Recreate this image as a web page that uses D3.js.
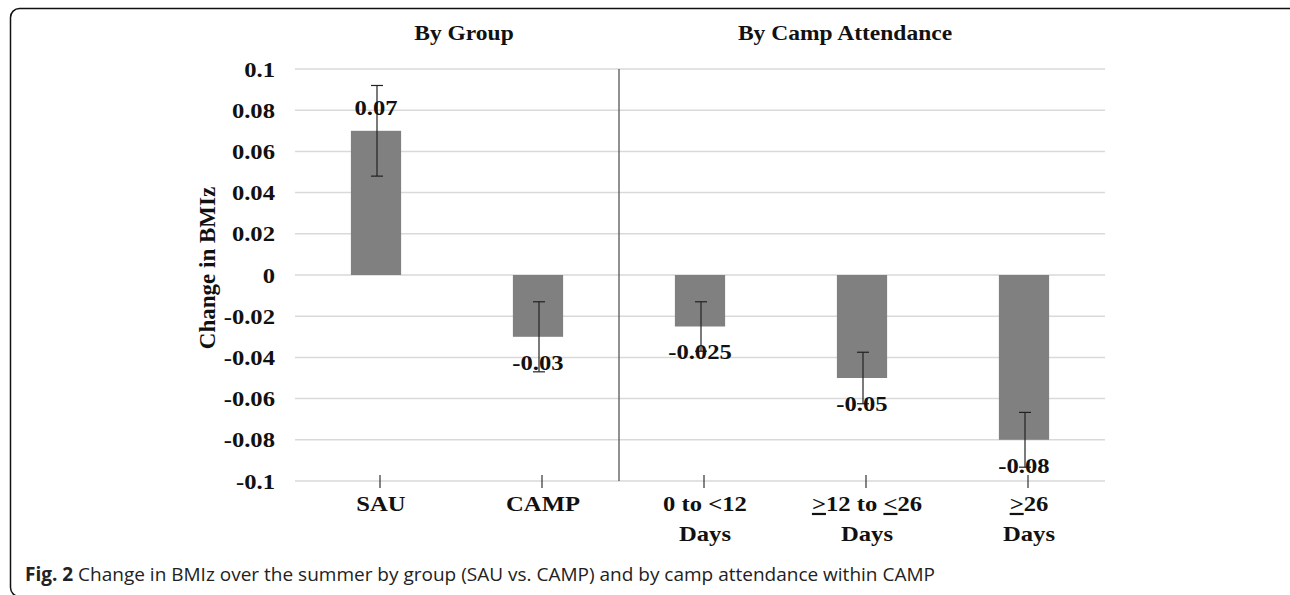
<!DOCTYPE html>
<html>
<head>
<meta charset="utf-8">
<script src="https://cdn.jsdelivr.net/npm/d3@7"></script>
<style>
  body { margin: 0; background: #fff; }
  svg { display: block; }
</style>
</head>
<body>
<svg id="chart"></svg>
<script>
const categories = ["SAU", "CAMP", "0 to <12|Days", "≥12 to ≤26|Days", "≥26|Days"];
const values = [0.07, -0.03, -0.025, -0.05, -0.08];
const errors = [0.022, 0.017, 0.012, 0.0125, 0.0133];
const labels = ["0.07", "-0.03", "-0.025", "-0.05", "-0.08"];
const yTicks = [0.1, 0.08, 0.06, 0.04, 0.02, 0, -0.02, -0.04, -0.06, -0.08, -0.1];
const yTickLabels = ["0.1", "0.08", "0.06", "0.04", "0.02", "0", "-0.02", "-0.04", "-0.06", "-0.08", "-0.1"];
const sectionTitles = ["By Group", "By Camp Attendance"];

const width = 1290;
const height = 595;
const margin = {top: 69, right: 185, bottom: 114, left: 295};
const serif = "'Liberation Serif', 'Times New Roman', serif";
const sx = 1.12; // the original figure is a little stretched sideways

const svg = d3.select("#chart")
    .attr("width", width)
    .attr("height", height);

// rounded frame, right and bottom run off the page
svg.append("rect")
    .attr("x", 10.5)
    .attr("y", 8.5)
    .attr("width", 1290)
    .attr("height", 588)
    .attr("rx", 9)
    .attr("fill", "none")
    .attr("stroke", "#111")
    .attr("stroke-width", 1.5);

const x = d3.scaleBand()
    .domain(categories)
    .range([margin.left, width - margin.right])
    .paddingInner(0.69)
    .paddingOuter(0.345);

const y = d3.scaleLinear()
    .domain([-0.1, 0.1])
    .range([height - margin.bottom, margin.top]);

const cx = c => x(c) + x.bandwidth() / 2;

function boldText(g, tx, ty, size) {
    return g.append("text")
        .attr("transform", `translate(${tx},${ty}) scale(${sx},1)`)
        .attr("text-anchor", "middle")
        .attr("font-family", serif)
        .attr("font-weight", "bold")
        .attr("font-size", size)
        .attr("fill", "#111");
}

// gridlines
svg.append("g")
    .selectAll("line")
    .data(yTicks)
    .join("line")
    .attr("x1", margin.left)
    .attr("x2", width - margin.right)
    .attr("y1", d => y(d))
    .attr("y2", d => y(d))
    .attr("stroke", "#d9d9d9")
    .attr("stroke-width", 1.5);

// y axis labels
const yAxis = svg.append("g")
    .attr("transform", `translate(${margin.left - 20},0)`)
    .call(d3.axisLeft(y).tickValues(yTicks).tickSize(0).tickPadding(0)
        .tickFormat((d, i) => yTickLabels[i]));
yAxis.select(".domain").remove();
yAxis.selectAll("text")
    .attr("transform", `scale(${sx},1)`)
    .attr("font-family", serif)
    .attr("font-weight", "bold")
    .attr("font-size", 22)
    .attr("fill", "#111");

svg.append("text")
    .attr("transform", `translate(215,268) rotate(-90)`)
    .attr("text-anchor", "middle")
    .attr("font-family", serif)
    .attr("font-weight", "bold")
    .attr("font-size", 23)
    .attr("fill", "#111")
    .text("Change in BMIz");

// bars
svg.append("g")
    .selectAll("rect")
    .data(values)
    .join("rect")
    .attr("x", (d, i) => x(categories[i]))
    .attr("width", x.bandwidth())
    .attr("y", d => y(Math.max(0, d)))
    .attr("height", d => Math.abs(y(d) - y(0)))
    .attr("fill", "#808080");

// error bars
const eb = svg.append("g")
    .attr("stroke", "#222")
    .attr("stroke-width", 1.2);
values.forEach((v, i) => {
    const px = cx(categories[i]) + 1;
    eb.append("line")
        .attr("x1", px).attr("x2", px)
        .attr("y1", y(v + errors[i])).attr("y2", y(v - errors[i]));
    [v + errors[i], v - errors[i]].forEach(e => {
        eb.append("line")
            .attr("x1", px - 6).attr("x2", px + 6)
            .attr("y1", y(e)).attr("y2", y(e));
    });
});

// value labels
const vl = svg.append("g");
values.forEach((v, i) => {
    boldText(vl, cx(categories[i]), y(v) + (v >= 0 ? -24 : 25), 22)
        .attr("dy", "0.35em")
        .text(labels[i]);
});

// category ticks and labels
const xAxis = svg.append("g")
    .attr("transform", `translate(4,${y(-0.1)})`)
    .call(d3.axisBottom(x).tickSize(0).tickFormat(""));
xAxis.select(".domain").remove();
xAxis.selectAll(".tick line")
    .attr("y1", -6)
    .attr("y2", 7)
    .attr("stroke", "#333")
    .attr("stroke-width", 1.2);

// ≥ and ≤ are typeset as underlined > and < like in the source figure
const cl = svg.append("g");
categories.forEach(c => {
    const t = boldText(cl, cx(c) + 5, y(-0.1) + 30, 22);
    c.split("|").forEach((line, j) => {
        const parts = line.split(/([≥≤])/).filter(p => p !== "");
        parts.forEach((p, k) => {
            const ts = t.append("tspan");
            if (k === 0) ts.attr("x", 0).attr("dy", j === 0 ? 0 : 30);
            if (p === "≥" || p === "≤") {
                ts.attr("text-decoration", "underline").text(p === "≥" ? ">" : "<");
            } else {
                ts.text(p);
            }
        });
    });
});

// separator between sections
const sepX = (cx(categories[1]) + cx(categories[2])) / 2;
svg.append("line")
    .attr("x1", sepX).attr("x2", sepX)
    .attr("y1", y(0.1)).attr("y2", y(-0.1))
    .attr("stroke", "#555")
    .attr("stroke-width", 1.3);

// section titles
const st = svg.append("g");
sectionTitles.forEach((d, i) => {
    boldText(st, i === 0 ? 464 : 845, 40, 21).text(d);
});

// caption
const cap = svg.append("text")
    .attr("x", 25)
    .attr("y", 581)
    .attr("font-family", "'Open Sans', 'Noto Sans', sans-serif")
    .attr("font-size", 19)
    .attr("fill", "#222");
cap.append("tspan").attr("font-weight", "bold").text("Fig. 2");
cap.append("tspan").text(" Change in BMIz over the summer by group (SAU vs. CAMP) and by camp attendance within CAMP");
</script>
</body>
</html>
